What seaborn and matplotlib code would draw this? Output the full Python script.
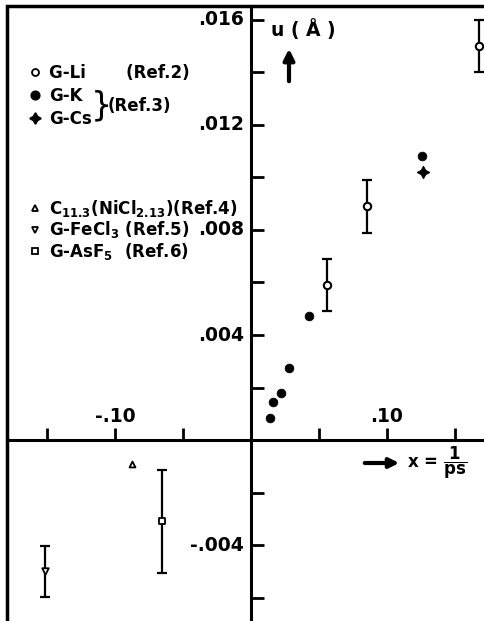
import matplotlib
matplotlib.use("Agg")
import matplotlib.pyplot as plt
import matplotlib.ticker as mticker
from matplotlib.lines import Line2D
import seaborn as sns

# --- data (x in 1/ps, u in Angstrom) ---
li_x = [0.056, 0.085, 0.168]
li_y = [0.0059, 0.0089, 0.0150]
li_err = [0.0010, 0.0010, 0.0010]

k_x = [0.014, 0.016, 0.022, 0.028, 0.043, 0.126]
k_y = [0.00084, 0.00145, 0.00179, 0.00274, 0.00472, 0.01082]

cs_x = [0.1265]
cs_y = [0.0102]

nicl_x = [-0.0875]
nicl_y = [-0.0009]

fecl_x = [-0.1515]
fecl_y = [-0.0050]
fecl_err = [0.00097]

asf_x = [-0.0654]
asf_y = [-0.0031]
asf_err = [0.00196]

x_labeled = [-0.10, 0.10]
x_ticks = [-0.15, -0.10, -0.05, 0.05, 0.10, 0.15]
y_labeled = [-0.004, 0.004, 0.008, 0.012, 0.016]
y_ticks = [-0.006, -0.004, -0.002, 0.002, 0.004, 0.006, 0.008, 0.010, 0.012, 0.014, 0.016]

# --- style ---
sns.set_style("white")
plt.rcParams["font.family"] = ["DejaVu Sans"]
plt.rcParams["font.weight"] = "bold"
plt.rcParams["mathtext.default"] = "bf"
for key in ["text.color", "axes.labelcolor", "xtick.color", "ytick.color"]:
    plt.rcParams[key] = "black"

W, H = 485, 621
fig = plt.figure(figsize=(W / 100, H / 100), dpi=100)
# axes frame: left edge at px 7, top at px 6, runs past right/bottom edges
ax = fig.add_axes([7 / W, -6 / H, 484 / W, 621 / H])
ax.set_xlim(-0.1794, 0.1765)
ax.set_ylim(-0.00712, 0.01653)


def fx(px):
    return (px - 7) / 484


def fy(py):
    return (627 - py) / 621


def fmt(v, nd):
    return f"{v:.{nd}f}".replace("0.", ".")


# frame + crossing axes
for side in ["top", "right"]:
    ax.spines[side].set_visible(False)
ax.patch.set_edgecolor("black")
ax.patch.set_linewidth(2.5)
for side in ["left", "bottom"]:
    ax.spines[side].set_position("zero")
    ax.spines[side].set_linewidth(2.2)
    ax.spines[side].set_color("black")
ax.xaxis.set_major_locator(mticker.NullLocator())
ax.yaxis.set_major_locator(mticker.NullLocator())
ax.grid(False)

# tick marks sitting on the crossing axes (up on x, right on y)
ax.plot(x_ticks, [0] * len(x_ticks), linestyle="none", marker=2, markersize=9,
        markeredgewidth=2, color="black", clip_on=False, zorder=2.6)
ax.plot([0] * len(y_ticks), y_ticks, linestyle="none", marker=1, markersize=9,
        markeredgewidth=2, color="black", clip_on=False, zorder=2.6)

# tick labels: x above the axis, y left of the axis
for v in x_labeled:
    ax.text(v, fy(417), fmt(v, 2), transform=ax.get_xaxis_transform(),
            fontsize=13.5, ha="center", va="center")
for v in y_labeled:
    ax.text(fx(244), v, fmt(v, 3), transform=ax.get_yaxis_transform(),
            fontsize=13.5, ha="right", va="center")

# --- error bars ---
eb = dict(fmt="none", ecolor="black", elinewidth=1.6, capsize=3.8, capthick=1.6, zorder=2)
ax.errorbar(li_x, li_y, yerr=li_err, **eb)
ax.errorbar(fecl_x, fecl_y, yerr=fecl_err, **eb)
ax.errorbar(asf_x, asf_y, yerr=asf_err, **eb)

# --- markers ---
sns.scatterplot(x=li_x, y=li_y, marker="o", s=28, facecolor="white", edgecolor="black", linewidth=1.5, ax=ax, zorder=3)
sns.scatterplot(x=k_x, y=k_y, marker="o", s=40, color="black", edgecolor="black", ax=ax, zorder=3)
sns.scatterplot(x=cs_x, y=cs_y, marker=(4, 1, 0), s=80, color="black", edgecolor="black", ax=ax, zorder=3)
sns.scatterplot(x=nicl_x, y=nicl_y, marker="^", s=18, facecolor="white", edgecolor="black", linewidth=1.3, ax=ax, zorder=3)
sns.scatterplot(x=fecl_x, y=fecl_y, marker="v", s=22, facecolor="white", edgecolor="black", linewidth=1.3, ax=ax, zorder=3)
sns.scatterplot(x=asf_x, y=asf_y, marker="s", s=14, facecolor="white", edgecolor="black", linewidth=1.3, ax=ax, zorder=3)

# --- legends ---
def handle(marker, ms, filled):
    return Line2D([], [], linestyle="none", marker=marker, markersize=ms,
                  markerfacecolor="black" if filled else "white",
                  markeredgecolor="black", markeredgewidth=1.3)


leg_kw = dict(frameon=False, fontsize=12, handlelength=1.0, handletextpad=0.35,
              borderpad=0, borderaxespad=0, loc="upper left")
leg1 = ax.legend([handle("o", 5, False), handle("o", 6, True), handle((4, 1, 0), 8, True)],
                 ["G-Li       (Ref.2)", "G-K", "G-Cs"],
                 bbox_to_anchor=(fx(27), fy(64)), labelspacing=0.3, **leg_kw)
ax.add_artist(leg1)
ax.legend([handle("^", 4.5, False), handle("v", 4.5, False), handle("s", 4, False)],
          [r"C$_{11.3}$(NiCl$_{2.13}$)(Ref.4)", r"G-FeCl$_3$ (Ref.5)", r"G-AsF$_5$  (Ref.6)"],
          bbox_to_anchor=(fx(27), fy(198)), labelspacing=0.03, **leg_kw)

ax.text(fx(101), fy(106), "}", transform=ax.transAxes, fontsize=24, fontweight="normal",
        ha="center", va="center")
ax.text(fx(108), fy(106), "(Ref.3)", transform=ax.transAxes, fontsize=12, ha="left", va="center")

# --- axis labels ---
ax.text(fx(303), fy(30), "u ( Å )", transform=ax.transAxes, fontsize=13.5, ha="center", va="center")
ax.annotate("", xy=(fx(289), fy(46)), xytext=(fx(289), fy(84)), xycoords="axes fraction",
            arrowprops=dict(arrowstyle="-|>", lw=3, color="black", mutation_scale=16))
ax.annotate("", xy=(fx(402), fy(463)), xytext=(fx(362), fy(463)), xycoords="axes fraction",
            arrowprops=dict(arrowstyle="-|>", lw=3, color="black", mutation_scale=14))
ax.text(fx(407), fy(463), r"x = $\dfrac{1}{ps}$", transform=ax.transAxes, fontsize=12,
        ha="left", va="center")

ax.set_xlabel("")
ax.set_ylabel("")
fig.savefig("out.png", dpi=100)
